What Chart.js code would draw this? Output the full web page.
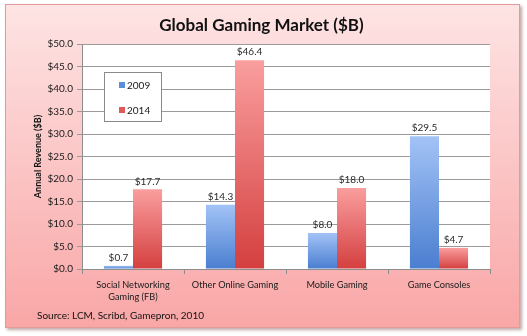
<!DOCTYPE html>
<html>
<head>
<meta charset="utf-8">
<script src="https://cdn.jsdelivr.net/npm/chart.js@4.4.1/dist/chart.umd.min.js"></script>
<style>
  html, body { margin: 0; padding: 0; background: #fff; }
  #wrap { width: 527px; height: 336px; }
</style>
</head>
<body>
<div id="wrap"><canvas id="gamingChart" width="527" height="336"></canvas></div>
<script>
const categories = [['Social Networking', 'Gaming (FB)'], 'Other Online Gaming', 'Mobile Gaming', 'Game Consoles'];
const seriesNames = ['2009', '2014'];
const revenue2009 = [0.7, 14.3, 8.0, 29.5];
const revenue2014 = [17.7, 46.4, 18.0, 4.7];
const yTicks = [0, 5, 10, 15, 20, 25, 30, 35, 40, 45, 50];
const sourceNote = 'Source: LCM, Scribd, Gamepron, 2010';

const FONT = 'Lato, "Open Sans", sans-serif';
const blueStops = ['#a3c3f6', '#4a7ed0'];
const redStops = ['#fa9e9e', '#d43f3f'];

function barGradient(stops) {
  return ctx => {
    const chart = ctx.chart;
    const yScale = chart.scales.y;
    if (!yScale || ctx.raw == null) return stops[1];
    const top = yScale.getPixelForValue(ctx.raw);
    const base = yScale.getPixelForValue(0);
    if (!isFinite(top) || !isFinite(base) || top === base) return stops[1];
    const g = chart.ctx.createLinearGradient(0, top, 0, base);
    g.addColorStop(0, stops[0]);
    g.addColorStop(1, stops[1]);
    return g;
  };
}

// pink frame behind everything, white plot area
const framePlugin = {
  id: 'frame',
  beforeDraw(chart) {
    const { ctx, chartArea } = chart;
    ctx.save();
    ctx.shadowColor = 'rgba(120,60,60,0.45)';
    ctx.shadowBlur = 3;
    ctx.shadowOffsetX = 2;
    ctx.shadowOffsetY = 2;
    const g = ctx.createLinearGradient(0, 4, 0, 328);
    g.addColorStop(0, '#fee4e4');
    g.addColorStop(1, '#f9a6a6');
    ctx.fillStyle = g;
    ctx.fillRect(5, 4, 515, 324);
    ctx.restore();
    ctx.save();
    ctx.strokeStyle = '#e29a9a';
    ctx.lineWidth = 1;
    ctx.strokeRect(5.5, 4.5, 514, 323);
    ctx.fillStyle = '#ffffff';
    ctx.fillRect(chartArea.left, chartArea.top, chartArea.right - chartArea.left, chartArea.bottom - chartArea.top);
    ctx.restore();
  }
};

// value labels, legend box and source line
const labelsPlugin = {
  id: 'extras',
  afterDatasetsDraw(chart) {
    const { ctx, chartArea } = chart;
    ctx.save();
    ctx.font = '10px ' + FONT;
    ctx.fillStyle = '#2a2a2a';
    ctx.textAlign = 'center';
    ctx.textBaseline = 'middle';
    chart.data.datasets.forEach((ds, di) => {
      chart.getDatasetMeta(di).data.forEach((bar, i) => {
        ctx.fillText('$' + ds.data[i].toFixed(1), bar.x, bar.y - 8);
      });
    });

    const lx = chartArea.left + 22, ly = chartArea.top + 28;
    ctx.fillStyle = '#ffffff';
    ctx.fillRect(lx, ly, 57, 49);
    ctx.strokeStyle = '#8a8a8a';
    ctx.lineWidth = 1;
    ctx.strokeRect(lx + 0.5, ly + 0.5, 57, 49);
    ctx.textAlign = 'left';
    ctx.font = '10px ' + FONT;
    chart.data.datasets.forEach((ds, di) => {
      const yy = ly + 13 + di * 25;
      ctx.fillStyle = di === 0 ? '#5b8ddb' : '#e05a5a';
      ctx.fillRect(lx + 15, yy - 3, 6, 6);
      ctx.fillStyle = '#1a1a1a';
      ctx.fillText(ds.label, lx + 23, yy + 1);
    });

    ctx.font = '10px ' + FONT;
    ctx.fillStyle = '#111';
    ctx.fillText(sourceNote, 37, 316);
    ctx.restore();
  }
};

const ctx = document.getElementById('gamingChart').getContext('2d');
const chart = new Chart(ctx, {
  type: 'bar',
  data: {
    labels: categories,
    datasets: [{
      label: seriesNames[0],
      data: revenue2009,
      backgroundColor: barGradient(blueStops),
    }, {
      label: seriesNames[1],
      data: revenue2014,
      backgroundColor: barGradient(redStops),
    }]
  },
  plugins: [framePlugin, labelsPlugin],
  options: {
    responsive: false,
    animation: false,
    devicePixelRatio: 1,
    categoryPercentage: 0.57,
    barPercentage: 1.0,
    layout: { padding: { left: 33, right: 37, top: 0, bottom: 20 } },
    plugins: {
      legend: { display: false },
      tooltip: { enabled: false },
      title: {
        display: true,
        text: 'Global Gaming Market ($B)',
        color: '#111',
        font: { family: FONT, size: 17, weight: 'bold' },
        padding: { top: 15, bottom: 8.6 }
      }
    },
    scales: {
      x: {
        offset: true,
        grid: { offset: true, drawOnChartArea: false, color: '#8c8c8c', tickLength: 5 },
        border: { color: '#8c8c8c' },
        ticks: { color: '#1a1a1a', font: { family: FONT, size: 9.2 }, padding: 6, maxRotation: 0, autoSkip: false },
        afterFit(scale) { scale.height = 47; }
      },
      y: {
        min: 0,
        max: 50,
        afterBuildTicks(scale) { scale.ticks = yTicks.map(v => ({ value: v })); },
        grid: { color: '#9a9a9a', tickLength: 5 },
        border: { color: '#8c8c8c' },
        ticks: {
          color: '#1a1a1a',
          font: { family: FONT, size: 10 },
          padding: 4,
          callback: v => '$' + Number(v).toFixed(1)
        },
        title: {
          display: true,
          text: 'Annual Revenue ($B)',
          color: '#111',
          font: { family: FONT, size: 9, weight: 'bold' },
          padding: { top: 0, bottom: 0 }
        },
        afterFit(scale) { scale.width = 49; }
      }
    }
  }
});
</script>
</body>
</html>
